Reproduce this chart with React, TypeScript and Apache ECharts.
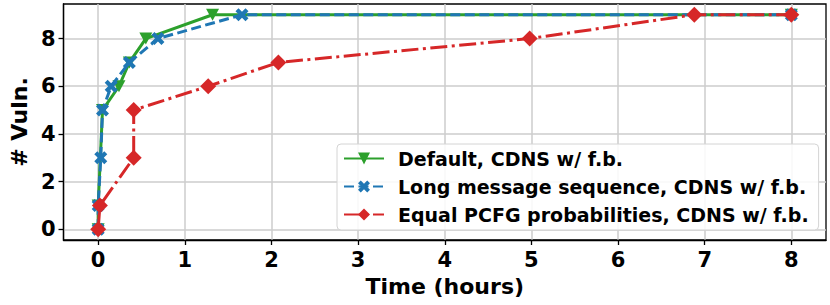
import React, { useEffect, useRef } from "react";
import * as echarts from "echarts";

const seriesNames = [
  "Default, CDNS w/ f.b.",
  "Long message sequence, CDNS w/ f.b.",
  "Equal PCFG probabilities, CDNS w/ f.b.",
];

// [hours, # vuln]
const defaultData: [number, number][] = [
  [0, 0], [0.0, 1], [0.05, 5], [0.24, 6], [0.36, 7], [0.55, 8], [1.32, 9], [8, 9],
];
const longMsgData: [number, number][] = [
  [0, 0], [0, 1], [0.03, 3], [0.05, 5], [0.15, 6], [0.36, 7], [0.69, 8], [1.66, 9], [8, 9],
];
const equalPcfgData: [number, number][] = [
  [0, 0], [0.02, 1], [0.41, 3], [0.41, 5], [1.27, 6], [2.08, 7], [4.98, 8], [6.88, 9], [8, 9],
];

const xTicks = [0, 1, 2, 3, 4, 5, 6, 7, 8];
const yTicks = [0, 2, 4, 6, 8];

const GREEN = "#2ca02c";
const BLUE = "#1f77b4";
const RED = "#d62728";
const FONT = "'DejaVu Sans', sans-serif";

const X_PATH =
  "path://M0,2.3 L2.3,0 L5,2.7 L7.7,0 L10,2.3 L7.3,5 L10,7.7 L7.7,10 L5,7.3 L2.3,10 L0,7.7 L2.7,5 Z";

export default function App() {
  const ref = useRef<HTMLDivElement>(null);
  useEffect(() => {
    if (!ref.current) return;
    const chart = echarts.init(ref.current, undefined, { renderer: "svg" });
    chart.setOption({
      animation: false,
      textStyle: { fontFamily: FONT },
      grid: {
        left: 59,
        right: 4,
        top: 4,
        bottom: 65,
        show: true,
        borderColor: "#000",
        borderWidth: 1.3,
        backgroundColor: "transparent",
      },
      legend: {
        orient: "vertical",
        left: 337,
        top: 144,
        padding: [5, 10, 6, 6],
        itemWidth: 40,
        itemHeight: 15,
        itemGap: 9,
        backgroundColor: "rgba(255,255,255,0.85)",
        borderColor: "#d4d4d4",
        borderWidth: 1,
        borderRadius: 4,
        textStyle: {
          fontFamily: FONT,
          fontWeight: "bold",
          fontSize: 19,
          color: "#000",
          padding: [0, 0, 0, 9],
        },
        data: seriesNames,
      },
      xAxis: {
        type: "value",
        min: -0.4,
        max: 8.4,
        name: "Time (hours)",
        nameLocation: "middle",
        nameGap: 35,
        nameTextStyle: { fontFamily: FONT, fontWeight: "bold", fontSize: 22, color: "#000" },
        axisLine: { show: true, onZero: false, lineStyle: { color: "#000", width: 1.3 } },
        axisTick: { show: true, customValues: xTicks, length: 5, lineStyle: { color: "#000", width: 1.3 } },
        axisLabel: {
          customValues: xTicks,
          margin: 9,
          fontFamily: FONT,
          fontWeight: "bold",
          fontSize: 21,
          color: "#000",
        },
        splitLine: { show: true, lineStyle: { color: "#cccccc", width: 1.5 } },
      },
      yAxis: {
        type: "value",
        min: -0.45,
        max: 9.45,
        name: "# Vuln.",
        nameLocation: "middle",
        nameGap: 32,
        nameTextStyle: { fontFamily: FONT, fontWeight: "bold", fontSize: 22, color: "#000" },
        axisLine: { show: true, onZero: false, lineStyle: { color: "#000", width: 1.3 } },
        axisTick: { show: true, customValues: yTicks, length: 5, lineStyle: { color: "#000", width: 1.3 } },
        axisLabel: {
          customValues: yTicks,
          margin: 8,
          fontFamily: FONT,
          fontWeight: "bold",
          fontSize: 21,
          color: "#000",
        },
        splitLine: { show: true, lineStyle: { color: "#cccccc", width: 1.5 } },
      },
      series: [
        {
          name: seriesNames[0],
          type: "line",
          data: defaultData,
          color: GREEN,
          symbol: "triangle",
          symbolRotate: 180,
          symbolSize: [13, 12],
          showAllSymbol: true,
          lineStyle: { color: GREEN, width: 3 },
          itemStyle: { color: GREEN },
          z: 2,
        },
        {
          name: seriesNames[1],
          type: "line",
          data: longMsgData,
          color: BLUE,
          symbol: X_PATH,
          symbolSize: 13,
          showAllSymbol: true,
          lineStyle: { color: BLUE, width: 3, type: [10, 4.5] },
          itemStyle: { color: BLUE },
          z: 3,
        },
        {
          name: seriesNames[2],
          type: "line",
          data: equalPcfgData,
          color: RED,
          symbol: "diamond",
          symbolSize: 16,
          showAllSymbol: true,
          lineStyle: { color: RED, width: 3, type: [17, 4.5, 3, 4.5] },
          itemStyle: { color: RED },
          z: 4,
        },
      ],
    });
    return () => chart.dispose();
  }, []);
  return <div ref={ref} style={{ width: 830, height: 305, position: "absolute", left: 0, top: 0 }} />;
}
